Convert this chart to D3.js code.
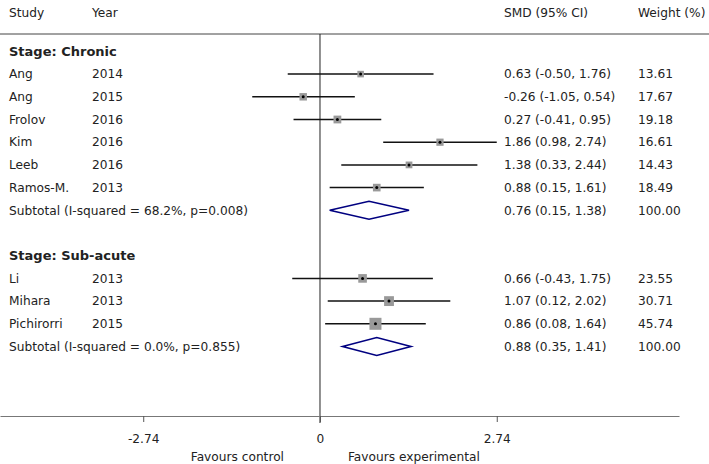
<!DOCTYPE html>
<html>
<head>
<meta charset="utf-8">
<script src="https://cdn.jsdelivr.net/npm/d3@7"></script>
<style>
  body { margin: 0; background: #fff; }
  text { font-family: 'DejaVu Sans', sans-serif; fill: #222; }
</style>
</head>
<body>
<div id="chart"></div>
<script>
// studies
const studies = ['Ang', 'Ang', 'Frolov', 'Kim', 'Leeb', 'Ramos-M.', 'Li', 'Mihara', 'Pichirorri']
const years = [2014, 2015, 2016, 2016, 2016, 2013, 2013, 2013, 2015]
const stages = ['Chronic', 'Chronic', 'Chronic', 'Chronic', 'Chronic', 'Chronic', 'Sub-acute', 'Sub-acute', 'Sub-acute']
const smd = [0.63, -0.26, 0.27, 1.86, 1.38, 0.88, 0.66, 1.07, 0.86]
const lower = [-0.50, -1.05, -0.41, 0.98, 0.33, 0.15, -0.43, 0.12, 0.08]
const upper = [1.76, 0.54, 0.95, 2.74, 2.44, 1.61, 1.75, 2.02, 1.64]
const weights = [13.61, 17.67, 19.18, 16.61, 14.43, 18.49, 23.55, 30.71, 45.74]

// subgroups
const groups = ['Chronic', 'Sub-acute']
const groupHet = ['I-squared = 68.2%, p=0.008', 'I-squared = 0.0%, p=0.855']
const groupSmd = [0.76, 0.88]
const groupLower = [0.15, 0.35]
const groupUpper = [1.38, 1.41]
const groupWeight = [100, 100]

const tickValues = [-2.74, 0, 2.74]
const columns = ['Study', 'Year', 'SMD (95% CI)', 'Weight (%)']

const W = 709
const H = 464
const fs = '12.2px'
const fsBold = '13px'
const cText = '#222'
const cNavy = '#000080'

const svg = d3.select('#chart').append('svg')
  .attr('width', W)
  .attr('height', H)

// build the row list
let rows = []
groups.forEach((gname, gi) => {
  rows.push({ type: 'header', label: 'Stage: ' + gname })
  studies.forEach((s, i) => {
    if (stages[i] !== gname) return
    rows.push({ type: 'study', label: s, year: years[i], est: smd[i],
      lo: lower[i], hi: upper[i], w: weights[i] })
  })
  rows.push({ type: 'sub', label: `Subtotal (${groupHet[gi]})`, est: groupSmd[gi],
    lo: groupLower[gi], hi: groupUpper[gi], w: groupWeight[gi] })
  if (gi < groups.length - 1) rows.push({ type: 'blank' })
})
rows.forEach((r, i) => { r.idx = i })

let x = d3.scaleLinear().domain([-4.96, 5.565]).range([0, 679])
let y = d3.scaleLinear().domain([0, rows.length - 1]).range([51.4, 346.5])
let size = d3.scaleSqrt().domain([0, d3.max(weights)]).range([0, 12])

let colX = [9, 92, 504, 638]

// column headers
svg.selectAll('.colhead')
  .data(columns)
  .enter()
  .append('text')
  .attr('x', (d, i) => colX[i])
  .attr('y', 13)
  .attr('dy', '0.35em')
  .style('font-size', fs)
  .text((d) => d)

svg.append('line')
  .attr('x1', 0).attr('x2', W)
  .attr('y1', 34).attr('y2', 34)
  .attr('stroke', '#444')
  .attr('stroke-width', 1)

const axisY = 416

// null line
svg.append('line')
  .attr('x1', x(0)).attr('x2', x(0))
  .attr('y1', 34).attr('y2', axisY + 7)
  .attr('stroke', '#222')
  .attr('stroke-width', 1)

// left text columns
let textRows = rows.filter((r) => r.type !== 'blank')
svg.selectAll('.lab')
  .data(textRows)
  .enter()
  .append('text')
  .attr('x', colX[0])
  .attr('y', (d) => y(d.idx))
  .attr('dy', '0.35em')
  .style('font-size', (d) => d.type === 'header' ? fsBold : fs)
  .style('font-weight', (d) => d.type === 'header' ? 'bold' : 'normal')
  .text((d) => d.label)

let studyRows = rows.filter((r) => r.type === 'study')
let estRows = rows.filter((r) => r.type === 'study' || r.type === 'sub')

svg.selectAll('.yr')
  .data(studyRows)
  .enter()
  .append('text')
  .attr('x', colX[1])
  .attr('y', (d) => y(d.idx))
  .attr('dy', '0.35em')
  .style('font-size', fs)
  .text((d) => d.year)

svg.selectAll('.ci-text')
  .data(estRows)
  .enter()
  .append('text')
  .attr('x', colX[2])
  .attr('y', (d) => y(d.idx))
  .attr('dy', '0.35em')
  .style('font-size', fs)
  .text((d) => `${d.est.toFixed(2)} (${d.lo.toFixed(2)}, ${d.hi.toFixed(2)})`)

svg.selectAll('.w-text')
  .data(estRows)
  .enter()
  .append('text')
  .attr('x', colX[3])
  .attr('y', (d) => y(d.idx))
  .attr('dy', '0.35em')
  .style('font-size', fs)
  .text((d) => d.w.toFixed(2))

// CI lines
let g = svg.append('g').classed('marks', true)
g.selectAll('.ci')
  .data(studyRows)
  .enter()
  .append('line')
  .attr('x1', (d) => x(d.lo))
  .attr('x2', (d) => x(d.hi))
  .attr('y1', (d) => y(d.idx))
  .attr('y2', (d) => y(d.idx))
  .attr('stroke', '#111')
  .attr('stroke-width', 1.5)

// weight boxes
g.selectAll('.box')
  .data(studyRows)
  .enter()
  .append('rect')
  .attr('x', (d) => x(d.est) - size(d.w) / 2)
  .attr('y', (d) => y(d.idx) - size(d.w) / 2)
  .attr('width', (d) => size(d.w))
  .attr('height', (d) => size(d.w))
  .attr('fill', '#999')

g.selectAll('.pt')
  .data(studyRows)
  .enter()
  .append('circle')
  .attr('cx', (d) => x(d.est))
  .attr('cy', (d) => y(d.idx))
  .attr('r', 1.5)
  .attr('fill', '#000')

// subtotal diamonds
let subRows = rows.filter((r) => r.type === 'sub')
g.selectAll('.diamond')
  .data(subRows)
  .enter()
  .append('path')
  .attr('d', (d) => {
    let cy = y(d.idx)
    return `M${x(d.lo)},${cy} L${x(d.est)},${cy - 9} L${x(d.hi)},${cy} L${x(d.est)},${cy + 9} Z`
  })
  .attr('fill', 'none')
  .attr('stroke', cNavy)
  .attr('stroke-width', 1.6)

// x axis
let axis = svg.append('g')
  .attr('class', 'axis axis--x')
  .attr('transform', `translate(0,${axisY})`)
  .call(d3.axisBottom(x).tickValues(tickValues).tickSizeInner(6).tickSizeOuter(0)
    .tickPadding(12)
    .tickFormat((d) => d === 0 ? '0' : d.toFixed(2)))
axis.select('.domain').attr('stroke', '#777').attr('stroke-width', 1.2)
axis.selectAll('.tick line').attr('stroke', '#555')
axis.selectAll('text')
  .style('font-size', fs)
  .style('font-family', "'DejaVu Sans', sans-serif")
  .attr('fill', cText)

svg.append('text')
  .attr('x', x(0) - 36)
  .attr('y', 457)
  .attr('dy', '0.35em')
  .attr('text-anchor', 'end')
  .style('font-size', fs)
  .text('Favours control')

svg.append('text')
  .attr('x', x(0) + 28)
  .attr('y', 457)
  .attr('dy', '0.35em')
  .style('font-size', fs)
  .text('Favours experimental')
</script>
</body>
</html>
